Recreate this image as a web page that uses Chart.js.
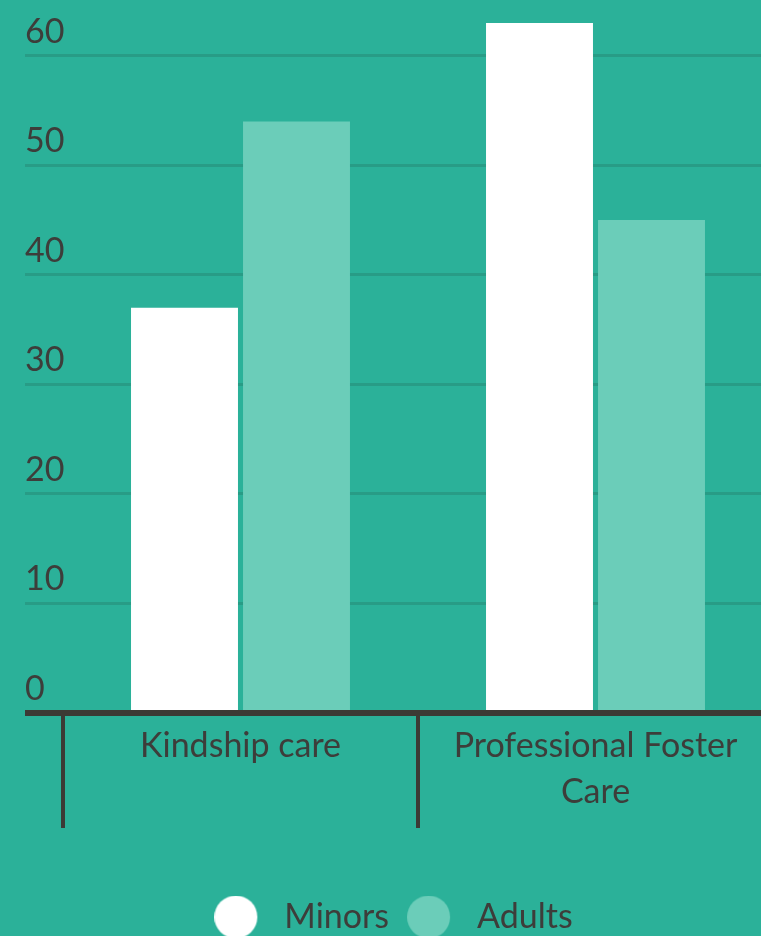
<!DOCTYPE html>
<html>
<head>
<meta charset="utf-8">
<script src="https://cdn.jsdelivr.net/npm/chart.js@4.4.1/dist/chart.umd.min.js"></script>
<style>
  html, body { margin: 0; padding: 0; background: #2bb199; overflow: hidden; }
  #wrap { width: 773px; height: 944px; }
</style>
</head>
<body>
<div id="wrap"><canvas id="careChart" width="773" height="944"></canvas></div>
<script>
const categories = ["Kindship care", ["Professional Foster", "Care"]];
const seriesNames = ["Minors", "Adults"];
const minors = [37, 63];
const adults = [54, 45];
const yTicks = [0, 10, 20, 30, 40, 50, 60];

const TEXT = "#3d3d3a";
const AXIS = "#3c3a35";
const GRID = "#289c86";
const FONT = { family: "Lato", size: 34 };

// round legend marker with some empty room on its right
function dot(color) {
    const c = document.createElement("canvas");
    c.width = 53;
    c.height = 43;
    const g = c.getContext("2d");
    g.fillStyle = color;
    g.beginPath();
    g.arc(21.5, 21.5, 21.5, 0, Math.PI * 2);
    g.fill();
    return c;
}
const legendDots = [dot("#ffffff"), dot("#6bcdb9")];

function draw() {
    const ctx = document.getElementById("careChart").getContext("2d");
    new Chart(ctx, {
        type: "bar",
        data: {
            labels: categories,
            datasets: [
                {
                    label: seriesNames[0],
                    data: minors,
                    backgroundColor: "#ffffff",
                    borderWidth: 0,
                    barPercentage: 0.955,
                    categoryPercentage: 0.631
                },
                {
                    label: seriesNames[1],
                    data: adults,
                    backgroundColor: "#6bcdb9",
                    borderWidth: 0,
                    barPercentage: 0.955,
                    categoryPercentage: 0.631
                }
            ]
        },
        options: {
            responsive: false,
            animation: false,
            layout: { padding: { top: 12, left: 14, right: 0, bottom: 0 } },
            plugins: {
                legend: {
                    position: "bottom",
                    labels: {
                        font: FONT,
                        color: TEXT,
                        usePointStyle: true,
                        pointStyleWidth: 53,
                        padding: 18,
                        generateLabels: chart => {
                            const items = Chart.defaults.plugins.legend.labels.generateLabels(chart);
                            items.forEach((it, i) => { it.pointStyle = legendDots[i]; });
                            return items;
                        }
                    }
                },
                tooltip: { enabled: false }
            },
            scales: {
                x: {
                    afterFit: s => { s.height = 159 + 10; },
                    grid: {
                        offset: true,
                        drawOnChartArea: false,
                        tickLength: 115,
                        lineWidth: 4,
                        color: AXIS
                    },
                    border: { display: true, color: AXIS, width: 6, z: 1 },
                    ticks: {
                        font: { family: "Lato", size: 34, lineHeight: 1.35 },
                        color: TEXT,
                        padding: -105,
                        maxRotation: 0,
                        autoSkip: false
                    }
                },
                y: {
                    min: 0,
                    max: 64,
                    afterFit: s => { s.width = 49; },
                    afterBuildTicks: s => { s.ticks = yTicks.map(v => ({ value: v })); },
                    grid: {
                        tickLength: 38,
                        lineWidth: c => (c.tick && c.tick.value === 0 ? 6 : 3),
                        color: c => (c.tick && c.tick.value === 0 ? AXIS : GRID)
                    },
                    border: { display: false },
                    ticks: {
                        mirror: true,
                        padding: -38,
                        labelOffset: -24,
                        font: FONT,
                        color: TEXT
                    }
                }
            }
        }
    });
}

if (document.fonts && document.fonts.load) {
    document.fonts.load("34px Lato").then(draw, draw);
} else {
    draw();
}
</script>
</body>
</html>
